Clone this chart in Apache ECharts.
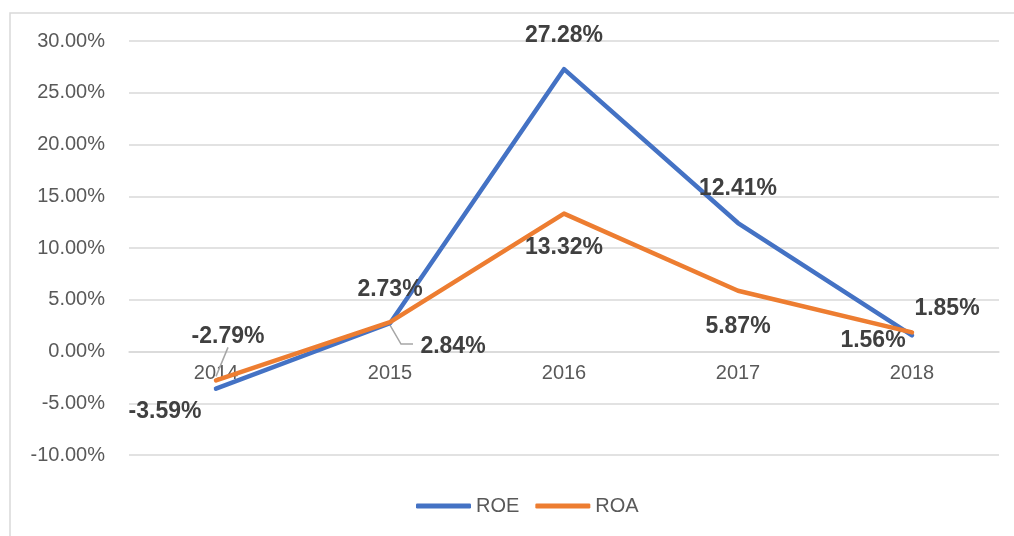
<!DOCTYPE html>
<html>
<head>
<meta charset="utf-8">
<script src="https://cdn.jsdelivr.net/npm/echarts@6/dist/echarts.min.js"></script>
<style>
  html, body { margin: 0; padding: 0; background: #fff; }
  #chart { width: 1014px; height: 536px; }
</style>
</head>
<body>
<div id="chart"></div>
<script>
const years = ['2014', '2015', '2016', '2017', '2018']
const roe = [-3.59, 2.73, 27.28, 12.41, 1.56]
const roa = [-2.79, 2.84, 13.32, 5.87, 1.85]

// label shifts from each point (dx, dy), like the Excel chart
const roeLabelShift = [[-51, 23], [0, -34], [0, -33], [0, -34], [-39, 5]]
const roaLabelShift = [[12, -44], [63, 25], [0, 34], [0, 36], [35, -24]]
// leader lines for the two moved ROA labels, relative to the point
const roaLeaders = { 0: [[0, -4], [12, -33]], 1: [[0, 3], [11, 22], [23, 22]] }

const chart = echarts.init(document.getElementById('chart'))

const FONT = '"Liberation Sans", Arial, sans-serif'
const labelStyle = {
  show: true,
  position: 'inside',
  color: '#404040',
  fontWeight: 'bold',
  fontSize: 23,
  fontFamily: FONT,
  formatter: p => p.value.toFixed(2) + '%'
}

const frame = {
  type: 'rect',
  shape: { x: 10, y: 13, width: 1100, height: 600 },
  style: { fill: 'none', stroke: '#d9d9d9', lineWidth: 1.5 },
  silent: true
}

chart.setOption({
  animation: false,
  graphic: [frame],
  grid: { left: 129, right: 15, top: 41, bottom: 81 },
  legend: {
    bottom: 15,
    left: 411,
    icon: 'roundRect',
    itemWidth: 55,
    itemHeight: 5,
    itemGap: 16,
    textStyle: { color: '#595959', fontSize: 20, fontFamily: FONT },
    data: ['ROE', 'ROA']
  },
  xAxis: {
    type: 'category',
    data: years,
    offset: -103,
    axisLine: { lineStyle: { color: '#d9d9d9', width: 1.5 } },
    axisTick: { show: false },
    axisLabel: { color: '#595959', fontSize: 20, fontFamily: FONT, margin: 11 }
  },
  yAxis: {
    type: 'value',
    min: -10,
    max: 30,
    interval: 5,
    axisLine: { show: false },
    axisTick: { show: false },
    splitLine: { lineStyle: { color: '#d9d9d9', width: 1.5 } },
    axisLabel: {
      color: '#595959', fontSize: 20, fontFamily: FONT, margin: 24,
      formatter: v => v.toFixed(2) + '%'
    }
  },
  series: [
    {
      name: 'ROE',
      type: 'line',
      data: roe,
      symbol: 'circle',
      symbolSize: 0,
      showSymbol: true,
      color: '#4472C4',
      lineStyle: { width: 4.5, color: '#4472C4', cap: 'round', join: 'round' },
      label: labelStyle,
      labelLayout: p => ({ dx: roeLabelShift[p.dataIndex][0], dy: roeLabelShift[p.dataIndex][1] }),
      z: 2
    },
    {
      name: 'ROA',
      type: 'line',
      data: roa,
      symbol: 'circle',
      symbolSize: 0,
      showSymbol: true,
      color: '#ED7D31',
      lineStyle: { width: 4.5, color: '#ED7D31', cap: 'round', join: 'round' },
      label: labelStyle,
      labelLayout: p => ({ dx: roaLabelShift[p.dataIndex][0], dy: roaLabelShift[p.dataIndex][1] }),
      z: 3
    }
  ]
})

// leader lines, placed from the data points through the chart's own scales
const leaders = Object.keys(roaLeaders).map(i => {
  const [px, py] = chart.convertToPixel({ seriesIndex: 1 }, [Number(i), roa[i]])
  return {
    type: 'polyline',
    shape: { points: roaLeaders[i].map(([dx, dy]) => [px + dx, py + dy]) },
    style: { stroke: '#a6a6a6', lineWidth: 1.5, fill: 'none' },
    z: 1,
    silent: true
  }
})
chart.setOption({ graphic: [frame, ...leaders] }, { replaceMerge: ['graphic'] })

window.addEventListener('resize', () => chart.resize())
</script>
</body>
</html>
